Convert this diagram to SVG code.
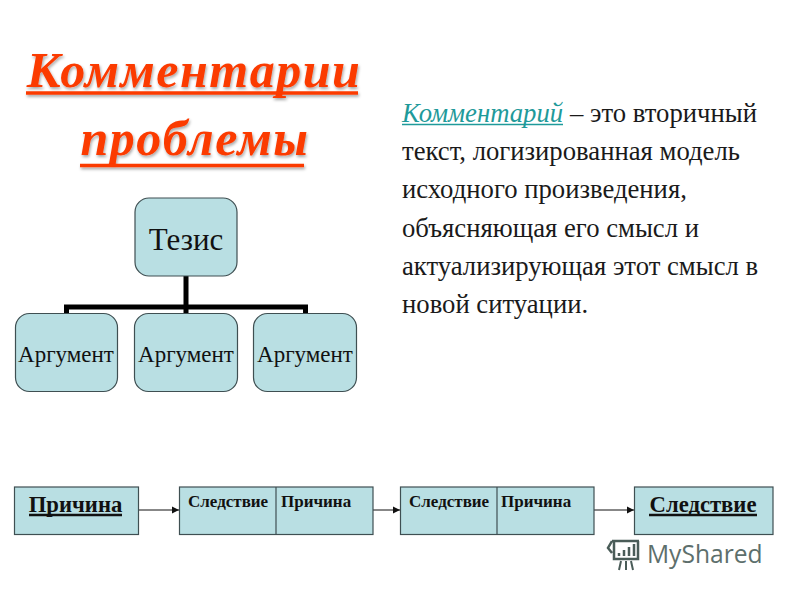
<svg xmlns="http://www.w3.org/2000/svg" width="800" height="600" viewBox="0 0 800 600">
<style>
text{font-family:"Liberation Serif","Times New Roman",serif;fill:#111}
.box{fill:#b9dfe3;stroke:#3f4f52;stroke-width:1.2}
.title{font-size:50px;font-weight:bold;font-style:italic;fill:#fb3a06;text-anchor:middle;letter-spacing:1.5px}
.tline{stroke:#fb3a06;stroke-width:3.5}
.body{font-size:26.700px;fill:#1a1a1a}
.arg{font-size:23px;text-anchor:middle}
.small{font-size:17px;font-weight:bold}
.big{font-size:22.700px;font-weight:bold;text-anchor:middle}
.ul{stroke:#111;stroke-width:2.500}
.tree{stroke:#000;stroke-width:5;fill:none}
.arrow{stroke:#111;stroke-width:1;fill:none;marker-end:url(#ah)}
.wm{stroke:#4a5c58;fill:none}
</style>
<defs>
<marker id="ah" markerUnits="userSpaceOnUse" markerWidth="8" markerHeight="8" refX="7" refY="4" orient="auto"><path d="M0 0.5L7 4L0 7.5Z" fill="#111"/></marker>
<filter id="sh" x="-5%" y="-10%" width="110%" height="125%"><feDropShadow dx="1" dy="2" stdDeviation="1.5" flood-color="#000" flood-opacity="0.35"/></filter>
</defs>
<rect width="800" height="600" fill="#fff"/>
<g id="title" filter="url(#sh)">
<text class="title" x="194" y="87">Комментарии</text>
<line class="tline" x1="26" y1="93" x2="358" y2="93"/>
<text class="title" x="195" y="155">проблемы</text>
<line class="tline" x1="80" y1="165.500" x2="304" y2="165.500"/>
</g>
<g id="definition">
<text class="body" x="402" y="122" style="font-style:italic;fill:#1f9a9a">Комментарий</text>
<line x1="402" y1="124.500" x2="563" y2="124.500" stroke="#1f9a9a" stroke-width="1.300"/>
<text class="body" x="570" y="122">– это вторичный</text>
<text class="body" x="402" y="160">текст, логизированная модель</text>
<text class="body" x="402" y="198">исходного произведения,</text>
<text class="body" x="402" y="237">объясняющая его смысл и</text>
<text class="body" x="402" y="275">актуализирующая этот смысл в</text>
<text class="body" x="402" y="313">новой ситуации.</text>
</g>
<g id="connectors">
<path class="tree" d="M186 276V307M66.500 314V307H305.500V314M186 307V314"/>
<path class="arrow" d="M139 510H179"/>
<path class="arrow" d="M373 510H400"/>
<path class="arrow" d="M594 510H634"/>
</g>
<g id="thesis"><rect class="box" x="135" y="198" width="102" height="78" rx="14"/><text x="186" y="250" style="font-size:31px;text-anchor:middle">Тезис</text></g>
<g id="arg1"><rect class="box" x="15.500" y="313.500" width="102" height="78" rx="14"/><text class="arg" x="66" y="362">Аргумент</text></g>
<g id="arg2"><rect class="box" x="134.500" y="313.500" width="103" height="78" rx="14"/><text class="arg" x="186" y="362">Аргумент</text></g>
<g id="arg3"><rect class="box" x="253.500" y="313.500" width="103" height="78" rx="14"/><text class="arg" x="305" y="362">Аргумент</text></g>
<g id="cause"><rect class="box" x="14.500" y="487" width="124" height="47.500"/><text class="big" x="75.500" y="511.500">Причина</text><line class="ul" x1="29" y1="515" x2="122" y2="515"/></g>
<g id="pair1"><rect class="box" x="179.500" y="487" width="193.500" height="47.500"/><line x1="276" y1="487" x2="276" y2="534.500" stroke="#3f4f52" stroke-width="1.200"/><text class="small" x="188" y="507">Следствие</text><text class="small" x="281" y="507">Причина</text></g>
<g id="pair2"><rect class="box" x="400.500" y="487" width="193.500" height="47.500"/><line x1="497" y1="487" x2="497" y2="534.500" stroke="#3f4f52" stroke-width="1.200"/><text class="small" x="409" y="507">Следствие</text><text class="small" x="501" y="507">Причина</text></g>
<g id="effect"><rect class="box" x="634.500" y="487" width="138.500" height="47.500"/><text class="big" x="703" y="511.500">Следствие</text><line class="ul" x1="649" y1="515" x2="757" y2="515"/></g>
<g id="watermark">
<path class="wm" stroke-width="2.500" d="M612 541H639M614 541V559H638V541M612 541L608 548L612 553"/>
<path class="wm" stroke-width="2.500" d="M619 556V553M624 556V550M629 556V547M634 556V544"/>
<path class="wm" stroke-width="2" d="M621 561L619 570M626 561V570M631 561L633 570"/>
<text x="647" y="563" style="font-family:'Open Sans','Liberation Sans',sans-serif;font-size:24.600px;fill:#5d6f6c">MyShared</text>
</g>
</svg>
